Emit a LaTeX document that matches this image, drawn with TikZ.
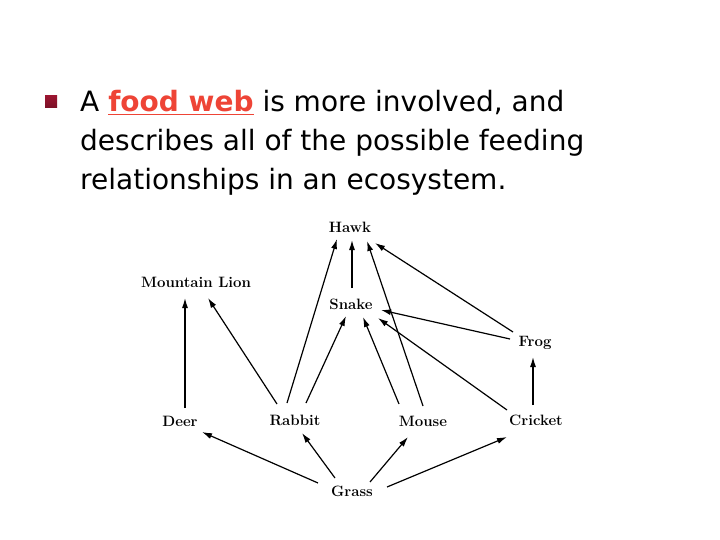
\documentclass[tikz,border=0pt]{standalone}
\usepackage{fontspec}
\newfontfamily\headfont{DejaVu Sans}
\usetikzlibrary{arrows.meta,calc}
\definecolor{foodred}{HTML}{EE4436}
\definecolor{bulletred}{HTML}{9A1530}
\definecolor{bulletdark}{HTML}{7A1026}
\begin{document}
\begin{tikzpicture}[x=1pt,y=-1pt,
  animal/.style={font=\bfseries\fontsize{15}{18}\selectfont, inner sep=1pt},
  headline/.style={anchor=base west, inner sep=0pt, font=\headfont\fontsize{28}{32}\selectfont},
  link/.style={-{Latex[length=10pt,width=6pt]}, line width=1.2pt}]
\useasboundingbox[fill=white] (0,0) rectangle (720,540);
% bullet and heading
\node[top color=bulletred, bottom color=bulletdark, minimum size=12pt, inner sep=0pt] (bullet) at (51,102) {};
\node[headline] (l1) at (80,112) {A \textcolor{foodred}{\bfseries\underline{food web}} is more involved, and};
\node[headline] (l2) at (80,151) {describes all of the possible feeding};
\node[headline] (l3) at (80,190) {relationships in an ecosystem.};
% animals
\node[animal] (hawk) at (350,227) {Hawk};
\node[animal] (lion) at (196,282) {Mountain Lion};
\node[animal] (snake) at (351,304) {Snake};
\node[animal] (frog) at (535,343) {Frog};
\node[animal] (deer) at (180,421) {Deer};
\node[animal] (rabbit) at (295,420) {Rabbit};
\node[animal] (mouse) at (423,421) {Mouse};
\node[animal] (cricket) at (536,420) {Cricket};
\node[animal] (grass) at (352,491) {Grass};
% links
\draw[link] ($(grass)+(-34,-8)$) -- ($(deer)+(22,11)$);
\draw[link] ($(grass)+(-17,-13)$) -- ($(rabbit)+(7,13)$);
\draw[link] ($(grass)+(18,-9)$) -- ($(mouse)+(-15,16)$);
\draw[link] ($(grass)+(35,-4)$) -- ($(cricket)+(-29,17)$);
\draw[link] ($(deer)+(5,-13)$) -- ($(lion)+(-11,16)$);
\draw[link] ($(rabbit)+(-18,-16)$) -- ($(lion)+(12,16)$);
\draw[link] ($(rabbit)+(-8,-17)$) -- ($(hawk)+(-13,12)$);
\draw[link] ($(rabbit)+(11,-17)$) -- ($(snake)+(-5,12)$);
\draw[link] ($(mouse)+(-24,-17)$) -- ($(snake)+(12,13)$);
\draw[link] ($(mouse)+(0,-15)$) -- ($(hawk)+(17,14)$);
\draw[link] ($(cricket)+(-29,-10)$) -- ($(snake)+(27,14)$);
\draw[link] ($(cricket)+(-3,-15)$) -- ($(frog)+(-2,14)$);
\draw[link] ($(frog)+(-25,-4)$) -- ($(snake)+(30,6)$);
\draw[link] ($(frog)+(-22,-11)$) -- ($(hawk)+(25,16)$);
\draw[link] ($(snake)+(1,-16)$) -- ($(hawk)+(2,13)$);
\end{tikzpicture}
\end{document}
